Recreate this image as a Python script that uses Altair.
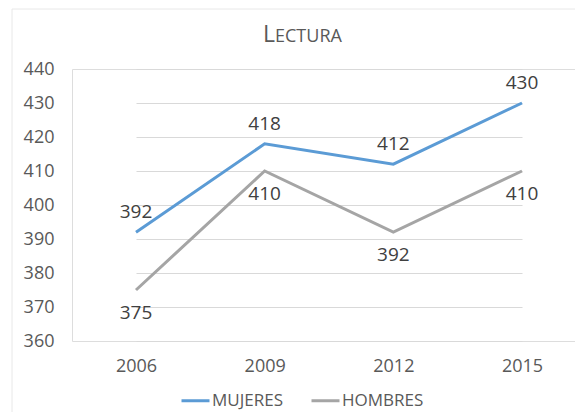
import altair as alt
import pandas as pd

years = ["2006", "2009", "2012", "2015"]
mujeres = [392, 418, 412, 430]
hombres = [375, 410, 392, 410]
series = ["MUJERES", "HOMBRES"]
colors = ["#5B9BD5", "#A5A5A5"]
y_ticks = [360, 370, 380, 390, 400, 410, 420, 430, 440]

rows = []
for i, yr in enumerate(years):
    rows.append({"year": yr, "serie": series[0], "value": mujeres[i]})
    rows.append({"year": yr, "serie": series[1], "value": hombres[i]})
df = pd.DataFrame(rows)

FONT = "Open Sans"
TXT = "#595959"

W, H = 503, 272

x = alt.X("year:N", sort=years,
          scale=alt.Scale(type="point", range=[64, 450], padding=0),
          axis=alt.Axis(title=None, labelAngle=0, domain=False, ticks=False,
                        labelFont=FONT, labelFontSize=18, labelColor=TXT,
                        labelPadding=16, grid=False))
y = alt.Y("value:Q",
          scale=alt.Scale(domain=[360, 440], nice=False, zero=False),
          axis=alt.Axis(title=None, values=y_ticks, domain=False, ticks=False,
                        labelFont=FONT, labelFontSize=18, labelColor=TXT,
                        labelPadding=18, grid=True, gridColor="#D9D9D9",
                        gridWidth=1))
color = alt.Color("serie:N", sort=series,
                  scale=alt.Scale(domain=series, range=colors),
                  legend=alt.Legend(title=None, orient="none", direction="horizontal",
                                    legendX=108, legendY=316, padding=0,
                                    symbolType="stroke", symbolSize=784,
                                    symbolStrokeWidth=3, labelFont=FONT,
                                    labelFontSize=17, labelColor=TXT,
                                    labelOffset=1, columnPadding=22))

base = alt.Chart(df)

lines = base.mark_line(strokeWidth=3).encode(x=x, y=y, color=color)

lab_m = base.transform_filter(alt.datum.serie == "MUJERES").mark_text(
    dy=-20, font=FONT, fontSize=19, color="#404040"
).encode(x=x, y=y, text="value:Q")

lab_h = base.transform_filter(alt.datum.serie == "HOMBRES").mark_text(
    dy=23, font=FONT, fontSize=19, color="#404040"
).encode(x=x, y=y, text="value:Q")

frame = alt.Chart(pd.DataFrame({"a": [0]})).mark_rect(
    fill=None, stroke="#E8E8E8", strokeWidth=1
).encode(x=alt.value(-60), x2=alt.value(560), y=alt.value(-60), y2=alt.value(400))

title_l = alt.Chart(pd.DataFrame({"t": ["L"]})).mark_text(
    font=FONT, fontSize=23, color=TXT, align="right", baseline="alphabetic"
).encode(text="t:N", x=alt.value(203), y=alt.value(-27))

title_r = alt.Chart(pd.DataFrame({"t": ["ECTURA"]})).mark_text(
    font=FONT, fontSize=18, color=TXT, align="left", baseline="alphabetic"
).encode(text="t:N", x=alt.value(203), y=alt.value(-27))

chart = alt.layer(frame, lines, lab_m, lab_h, title_l, title_r).properties(
    width=W, height=H,
    autosize=alt.AutoSizeParams(type="none"),
    padding={"left": 64, "top": 61, "right": 0, "bottom": 71},
).configure_view(stroke=None).configure(background="white")

chart.save("out.html", embed_options={"renderer": "svg", "actions": False})
